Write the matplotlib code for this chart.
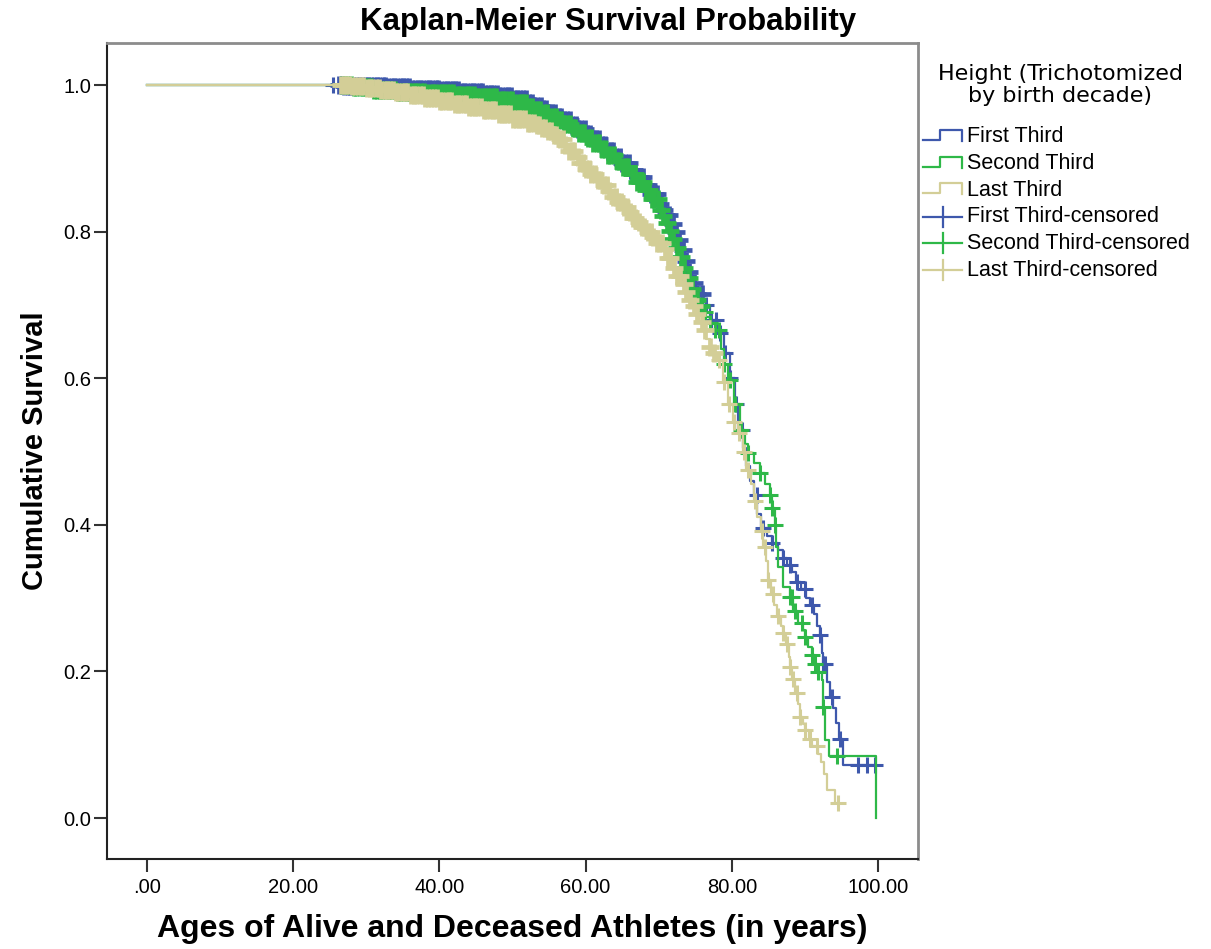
import numpy as np
import matplotlib.pyplot as plt
from matplotlib.lines import Line2D

# Kaplan-Meier survival: event ages and survival after the event
first_t = [0, 27, 30, 33, 36, 40, 43, 46, 48, 50, 52, 53, 54, 55, 56, 57, 58, 59, 60, 61,
           62, 63, 64, 65, 66, 67, 68, 69, 70, 70.5, 71, 71.5, 72, 72.5, 73, 73.5, 74,
           74.5, 75, 76, 77, 78, 79, 79.8, 80.4, 80.9, 81.5, 82.0, 82.5, 83.0, 83.5, 84.0,
           84.8, 85.5, 86.3, 87.0, 87.6, 88.3, 88.8, 89.5, 90.2, 90.7, 91.2, 91.6, 92.0,
           92.3, 92.5, 93.0, 93.4, 93.8, 94.3, 94.7, 95.2]
first_s = [1.0, 0.999, 0.998, 0.997, 0.995, 0.993, 0.991, 0.988, 0.985, 0.981, 0.975,
           0.971, 0.967, 0.962, 0.957, 0.952, 0.946, 0.940, 0.933, 0.926, 0.918, 0.910,
           0.902, 0.893, 0.884, 0.874, 0.863, 0.851, 0.838, 0.830, 0.822, 0.811, 0.800,
           0.788, 0.775, 0.760, 0.745, 0.730, 0.715, 0.700, 0.680, 0.662, 0.635, 0.600,
           0.565, 0.530, 0.505, 0.480, 0.460, 0.440, 0.415, 0.395, 0.385, 0.375, 0.365,
           0.355, 0.345, 0.335, 0.322, 0.312, 0.300, 0.290, 0.278, 0.262, 0.250, 0.225,
           0.210, 0.185, 0.165, 0.150, 0.130, 0.108, 0.072]
# censored ages: the packed band, then the separate crosses of the tail
first_cens_band = [
    26.3, 26.7, 27.0, 27.5, 27.8, 28.2, 28.7, 29.0, 29.4, 29.9, 30.2, 30.6, 31.1,
    31.4, 31.8, 32.3, 32.6, 33.0, 33.5, 33.8, 34.2, 34.7, 35.0, 35.4, 35.9, 36.2, 36.6,
    37.1, 37.4, 37.8, 38.3, 38.6, 39.0, 39.5, 39.8, 40.2, 40.7, 41.0, 41.4, 41.9, 42.2,
    42.6, 43.1, 43.4, 43.8, 44.3, 44.6, 45.0, 45.5, 45.8, 46.2, 46.7, 47.0, 47.4, 47.9,
    48.2, 48.6, 49.1, 49.4, 49.8, 50.3, 50.6, 51.0, 51.5, 51.8, 52.2, 52.7, 53.0, 53.4,
    53.9, 54.2, 54.6, 55.1, 55.4, 55.8, 56.3, 56.6, 57.0, 57.5, 57.8, 58.2, 58.7, 59.0,
    59.4, 59.9, 60.2, 60.6, 61.1, 61.4, 61.8, 62.3, 62.6, 63.0, 63.5, 63.8, 64.2, 64.7,
    65.0, 65.4, 65.9, 66.2, 66.6, 67.1, 67.4, 67.8, 68.3, 68.6, 69.0, 69.5, 69.8, 70.2,
    70.7, 71.0, 71.4, 71.9, 72.3, 72.8, 73.3, 73.7, 74.2, 74.8, 75.3, 75.9]
first_cens_tail = [25.4, 76.5, 77.1, 77.8, 78.4, 79.1, 79.8, 80.6, 81.4, 83.4, 84.3, 85.5,
                   87.0, 88.0, 88.9, 90.0, 91.0, 92.1, 92.5, 92.8, 93.7, 94.8, 97.3, 98.5,
                   99.6]

second_t = [0, 28, 31, 34, 38, 42, 45, 48, 50, 52, 53, 54, 55, 56, 57, 58, 59, 60, 61, 62,
            63, 64, 65, 66, 67, 68, 69, 70, 70.5, 71, 71.5, 72, 72.5, 73, 73.5, 74, 74.5,
            75, 75.5, 76, 76.5, 77, 77.7, 78.5, 79.0, 79.5, 80.3, 81.1, 81.8, 82.2, 83.0,
            83.9, 84.6, 85.2, 85.5, 85.9, 86.1, 86.3, 87.0, 88.0, 88.4, 89.1, 89.7, 90.0,
            90.4, 91.0, 91.4, 91.8, 92.3, 92.5, 92.75, 93.3, 99.7]
second_s = [1.0, 0.997, 0.993, 0.991, 0.989, 0.987, 0.984, 0.980, 0.976, 0.970, 0.966,
            0.962, 0.957, 0.952, 0.947, 0.941, 0.935, 0.928, 0.921, 0.913, 0.905, 0.897,
            0.888, 0.878, 0.868, 0.857, 0.844, 0.830, 0.821, 0.812, 0.801, 0.790, 0.778,
            0.765, 0.751, 0.737, 0.722, 0.707, 0.698, 0.690, 0.683, 0.676, 0.666, 0.640,
            0.620, 0.598, 0.565, 0.530, 0.510, 0.498, 0.485, 0.471, 0.455, 0.441, 0.423,
            0.400, 0.370, 0.342, 0.315, 0.302, 0.282, 0.266, 0.256, 0.247, 0.233, 0.222,
            0.210, 0.199, 0.188, 0.152, 0.106, 0.085, 0.0]
second_cens_band = [
    26.7, 27.1, 27.4, 27.9, 28.3, 28.6, 29.1, 29.5, 29.8, 30.3, 30.7, 31.0, 31.5, 31.9,
    32.2, 32.7, 33.1, 33.4, 33.9, 34.3, 34.6, 35.1, 35.5, 35.8, 36.3, 36.7, 37.0, 37.5,
    37.9, 38.2, 38.7, 39.1, 39.4, 39.9, 40.3, 40.6, 41.1, 41.5, 41.8, 42.3, 42.7, 43.0,
    43.5, 43.9, 44.2, 44.7, 45.1, 45.4, 45.9, 46.3, 46.6, 47.1, 47.5, 47.8, 48.3, 48.7,
    49.0, 49.5, 49.9, 50.2, 50.7, 51.1, 51.4, 51.9, 52.3, 52.6, 53.1, 53.5, 53.8, 54.3,
    54.7, 55.0, 55.5, 55.9, 56.2, 56.7, 57.1, 57.4, 57.9, 58.3, 58.6, 59.1, 59.5, 59.8,
    60.3, 60.7, 61.0, 61.5, 61.9, 62.2, 62.7, 63.1, 63.4, 63.9, 64.3, 64.6, 65.1, 65.5,
    65.8, 66.3, 66.7, 67.0, 67.5, 67.9, 68.2, 68.7, 69.1, 69.4, 69.9, 70.3, 70.6, 71.1,
    71.5, 72.0, 72.5, 73.0, 73.5, 74.1, 74.6, 75.2, 75.8]
second_cens_tail = [76.4, 77.0, 77.7, 78.3, 79.0, 79.7, 80.5, 81.2, 82.2, 83.9, 85.2, 85.5,
                    85.9, 88.0, 88.2, 88.6, 89.6, 90.0, 91.0, 91.4, 91.8, 92.5, 94.4]

last_t = [0, 28, 30, 32, 34, 36, 38, 40, 42, 44, 46, 48, 50, 52, 53, 54, 54.8, 55.5, 56.2,
          57.0, 57.7, 58.5, 59.2, 60.0, 60.7, 61.5, 62.2, 63.0, 63.7, 64.4, 65.0, 65.7,
          66.4, 67.0, 67.7, 68.4, 69.0, 69.7, 70.5, 71.2, 72.0, 72.5, 73.0, 73.5, 74.0,
          74.5, 75.0, 75.5, 76.0, 76.5, 77.0, 77.5, 78.0, 78.8, 79.5, 80.2, 80.8, 81.5,
          82.0, 82.6, 83.0, 83.5, 84.0, 84.3, 84.7, 85.0, 85.4, 85.8, 86.2, 86.7, 87.0,
          87.4, 87.8, 88.0, 88.3, 88.7, 89.0, 89.3, 89.7, 90.0, 90.5, 91.0, 91.8, 92.2,
          92.6, 93.0, 94.1]
last_s = [1.0, 0.998, 0.996, 0.993, 0.990, 0.986, 0.982, 0.978, 0.974, 0.970, 0.966,
          0.960, 0.954, 0.948, 0.945, 0.941, 0.937, 0.932, 0.926, 0.918, 0.910, 0.902,
          0.894, 0.885, 0.878, 0.870, 0.863, 0.855, 0.847, 0.840, 0.834, 0.827, 0.819,
          0.813, 0.806, 0.799, 0.793, 0.785, 0.776, 0.764, 0.750, 0.739, 0.728, 0.718,
          0.707, 0.698, 0.688, 0.677, 0.666, 0.654, 0.642, 0.634, 0.625, 0.595, 0.565,
          0.540, 0.525, 0.500, 0.475, 0.455, 0.432, 0.410, 0.392, 0.370, 0.350, 0.325,
          0.305, 0.290, 0.276, 0.262, 0.252, 0.238, 0.220, 0.206, 0.190, 0.170, 0.155,
          0.138, 0.128, 0.120, 0.108, 0.098, 0.088, 0.076, 0.060, 0.038, 0.020]
last_cens_band = [
    26.5, 26.9, 27.2, 27.7, 28.1, 28.4, 28.9, 29.3, 29.6, 30.1, 30.5, 30.8, 31.3, 31.7,
    32.0, 32.5, 32.9, 33.2, 33.7, 34.1, 34.4, 34.9, 35.3, 35.6, 36.1, 36.5, 36.8, 37.3,
    37.7, 38.0, 38.5, 38.9, 39.2, 39.7, 40.1, 40.4, 40.9, 41.3, 41.6, 42.1, 42.5, 42.8,
    43.3, 43.7, 44.0, 44.5, 44.9, 45.2, 45.7, 46.1, 46.4, 46.9, 47.3, 47.6, 48.1, 48.5,
    48.8, 49.3, 49.7, 50.0, 50.5, 50.9, 51.2, 51.7, 52.1, 52.4, 52.9, 53.3, 53.6, 54.1,
    54.5, 54.8, 55.3, 55.7, 56.0, 56.5, 56.9, 57.2, 57.7, 58.1, 58.4, 58.9, 59.3, 59.6,
    60.1, 60.5, 60.8, 61.3, 61.7, 62.0, 62.5, 62.9, 63.2, 63.7, 64.1, 64.4, 64.9, 65.3,
    65.6, 66.1, 66.5, 66.8, 67.3, 67.7, 68.0, 68.5, 68.9, 69.2, 69.7, 70.1, 70.4, 70.9,
    71.3, 71.6, 72.1, 72.5, 72.9, 73.4, 73.8, 74.3, 74.8, 75.3, 75.9, 76.4, 77.0, 77.6]
last_cens_tail = [78.2, 78.9, 79.6, 80.3, 81.0, 81.7, 82.2, 83.2, 84.1, 84.5, 85.0, 85.6,
                  86.3, 87.0, 87.6, 88.0, 88.4, 88.9, 89.3, 90.0, 90.7, 91.6, 94.5]

group_names = ['First Third', 'Second Third', 'Last Third']
group_colors = ['#3E58AC', '#2EB848', '#D3CE97']
legend_title = 'Height (Trichotomized\nby birth decade)'
x_ticks = [0, 20, 40, 60, 80, 100]
x_tick_labels = ['.00', '20.00', '40.00', '60.00', '80.00', '100.00']
y_ticks = [0.0, 0.2, 0.4, 0.6, 0.8, 1.0]
y_tick_labels = ['0.0', '0.2', '0.4', '0.6', '0.8', '1.0']

W, H = 1211, 949
fig = plt.figure(figsize=(W / 100, H / 100), dpi=100)
ax = fig.add_axes([107 / W, (H - 859) / H, (918 - 107) / W, (859 - 43) / H])


def km_curve(t, s, band, tail, color):
    t = np.asarray(t, float)
    s = np.asarray(s, float)
    end = max(band + tail)
    if end > t[-1]:
        t = np.append(t, end)
        s = np.append(s, s[-1])
    ax.step(t, s, where='post', color=color, lw=1.6, zorder=2)
    # censor marks sit on the curve at their age; packed ones merge into a band
    for cens, ms, mew in [(band, 13, 3.4), (tail, 12, 2.2)]:
        idx = np.searchsorted(t, cens, side='right') - 1
        ax.plot(cens, s[idx], ls='none', marker='+', ms=ms, mew=mew, color=color,
                zorder=2)


curves = [(first_t, first_s, first_cens_band, first_cens_tail),
          (second_t, second_s, second_cens_band, second_cens_tail),
          (last_t, last_s, last_cens_band, last_cens_tail)]
for (t, s, b, c), col in zip(curves, group_colors):
    km_curve(t, s, b, c, col)

ax.set_xlim(-5.47, 105.47)
ax.set_ylim(-0.0559, 1.0573)
ax.set_xticks(x_ticks)
ax.set_xticklabels(x_tick_labels, family='Liberation Sans', fontsize=14.5)
ax.set_yticks(y_ticks)
ax.set_yticklabels(y_tick_labels, family='Liberation Sans', fontsize=14.5)
ax.tick_params(axis='x', length=9, width=1.5, pad=5, color='#333333')
ax.tick_params(axis='y', length=9.5, width=1.5, pad=2, color='#333333')
for side in ['left', 'bottom']:
    ax.spines[side].set(linewidth=1.5, color='#222222')
for side in ['top', 'right']:
    ax.spines[side].set(linewidth=2, color='#8c8c8c')

ax.set_xlabel('Ages of Alive and Deceased Athletes (in years)', family='Liberation Sans',
              fontsize=23, fontweight='bold', labelpad=12)
ax.set_ylabel('Cumulative Survival', family='Liberation Sans', fontsize=21,
              fontweight='bold', labelpad=10)
fig.text(608 / W, 1 - 22 / H, 'Kaplan-Meier Survival Probability', family='Liberation Sans',
         fontsize=22.5, fontweight='bold', ha='center', va='center')


# legend drawn by hand to match the SPSS layout
def fx(px):
    return px / W


def fy(py):
    return 1 - py / H


fig.text(fx(1060), fy(85), legend_title, family='DejaVu Sans', fontsize=16,
         ha='center', va='center', linespacing=1.1)
labels = group_names + [n + '-censored' for n in group_names]
for i, lab in enumerate(labels):
    yc = 137 + i * 26.6
    col = group_colors[i % 3]
    if i < 3:
        xs = [923, 940, 940, 962, 962]
        ys = [yc + 3, yc + 3, yc - 7, yc - 7, yc + 4]
        fig.add_artist(Line2D([fx(v) for v in xs], [fy(v) for v in ys],
                              transform=fig.transFigure, color=col, lw=1.6))
    else:
        fig.add_artist(Line2D([fx(923), fx(962)], [fy(yc), fy(yc)],
                              transform=fig.transFigure, color=col, lw=1.6))
        fig.add_artist(Line2D([fx(943), fx(943)], [fy(yc - 10), fy(yc + 10)],
                              transform=fig.transFigure, color=col, lw=1.6))
    fig.text(fx(967), fy(yc), lab, family='Liberation Sans', fontsize=15.5,
             ha='left', va='center')

fig.savefig('out.png', dpi=100)
